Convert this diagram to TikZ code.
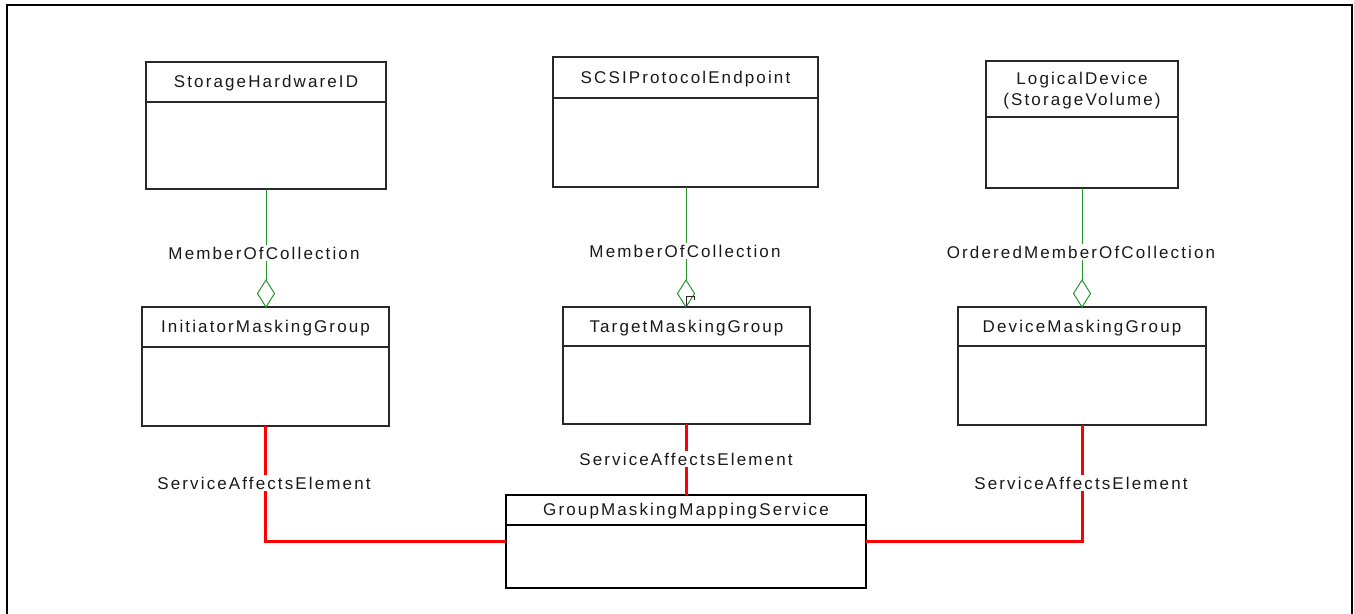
\documentclass[tikz,border=0pt]{standalone}
\usepackage{fontspec}
\setmainfont{Liberation Sans}[LetterSpace=12.5]
\usetikzlibrary{shapes.geometric}
\definecolor{boxc}{RGB}{40,40,40}
\definecolor{assocg}{RGB}{40,150,40}
\definecolor{sred}{RGB}{255,0,0}
\tikzset{
 classbox/.style={draw=boxc, line width=1.2pt, inner sep=0pt, outer sep=0pt, anchor=north west},
 title/.style={font=\fontsize{17}{21}\selectfont, text=black!90, inner sep=0pt, align=center},
 lab/.style={font=\fontsize{17}{20}\selectfont, text=black!90, fill=white, inner sep=2pt},
 agg/.style={draw=assocg, line width=1pt},
 aggd/.style={diamond, draw=assocg, line width=1pt, inner sep=0pt, outer sep=0pt, minimum width=17pt, minimum height=27pt, fill=white, anchor=south},
 sae/.style={draw=sred, line width=3pt},
}
\newcommand\umlclass[8][]{% name x1 y1 x2 y2 ydiv text
 \pgfmathsetmacro\cw{#5-#3}\pgfmathsetmacro\ch{#6-#4}
 \node[classbox, minimum width=\cw pt, minimum height=\ch pt, #1] (#2) at (#3,#4) {};
 \draw[boxc, line width=1.2pt, #1] (#3,#7) -- (#5,#7);
 \node[title] (#2-t) at ({(#3+#5)/2},{(#4+#7)/2+1.5}) {#8};
}
\begin{document}
\begin{tikzpicture}[x=1pt,y=-1pt]
\useasboundingbox (0,0) rectangle (1354,613);
\draw[black, line width=2.5pt] (7,625) -- (7,5) -- (1352,5) -- (1352,625);

% classes: name x1 y1 x2 y2 ydiv
\umlclass{shid}{146}{62}{386}{189}{102}{StorageHardwareID}
\umlclass{scsi}{553}{57}{818}{187}{98}{SCSIProtocolEndpoint}
\umlclass{ld}{986}{61}{1178}{188}{117}{LogicalDevice\\(StorageVolume)}
\umlclass{init}{142}{307}{389}{426}{347}{InitiatorMaskingGroup}
\umlclass{tmg}{563}{307}{810}{424}{346}{TargetMaskingGroup}
\umlclass{dmg}{958}{307}{1206}{425}{346}{DeviceMaskingGroup}
\umlclass[draw=black, line width=2pt]{gm}{506}{495}{866}{588}{525}{GroupMaskingMappingService}

% aggregation diamonds
\node[aggd] (d1) at (266,307) {};
\node[aggd] (d2) at (686,307) {};
\node[aggd] (d3) at (1082,307) {};

% labels
\node[lab] (l1) at (264,253) {MemberOfCollection};
\node[lab] (l2) at (685,251) {MemberOfCollection};
\node[lab] (l3) at (1081,252) {OrderedMemberOfCollection};
\node[lab] (l4) at (264,483) {ServiceAffectsElement};
\node[lab] (l5) at (686,459) {ServiceAffectsElement};
\node[lab] (l6) at (1081,483) {ServiceAffectsElement};

% green aggregations
\draw[agg] (shid.south -| d1) -- (l1.north -| d1);
\draw[agg] (l1.south -| d1) -- (d1.north);
\draw[agg] (scsi.south -| d2) -- (l2.north -| d2);
\draw[agg] (l2.south -| d2) -- (d2.north);
\draw[agg] (ld.south -| d3) -- (l3.north -| d3);
\draw[agg] (l3.south -| d3) -- (d3.north);
\draw[boxc, line width=0.8pt] (d2.south) -- ++(0,-11) -- ++(8,0) -- ++(0,4);

% red associations
\draw[sae] (init.south) -- (l4.north -| init.south);
\draw[sae] (l4.south -| init.south) -- (init.south |- gm.west) -- (gm.west);
\draw[sae] (tmg.south -| gm.north) -- (l5.north -| gm.north);
\draw[sae] (l5.south -| gm.north) -- (gm.north);
\draw[sae] (dmg.south) -- (l6.north -| dmg.south);
\draw[sae] (l6.south -| dmg.south) -- (dmg.south |- gm.east) -- (gm.east);
\end{tikzpicture}
\end{document}
